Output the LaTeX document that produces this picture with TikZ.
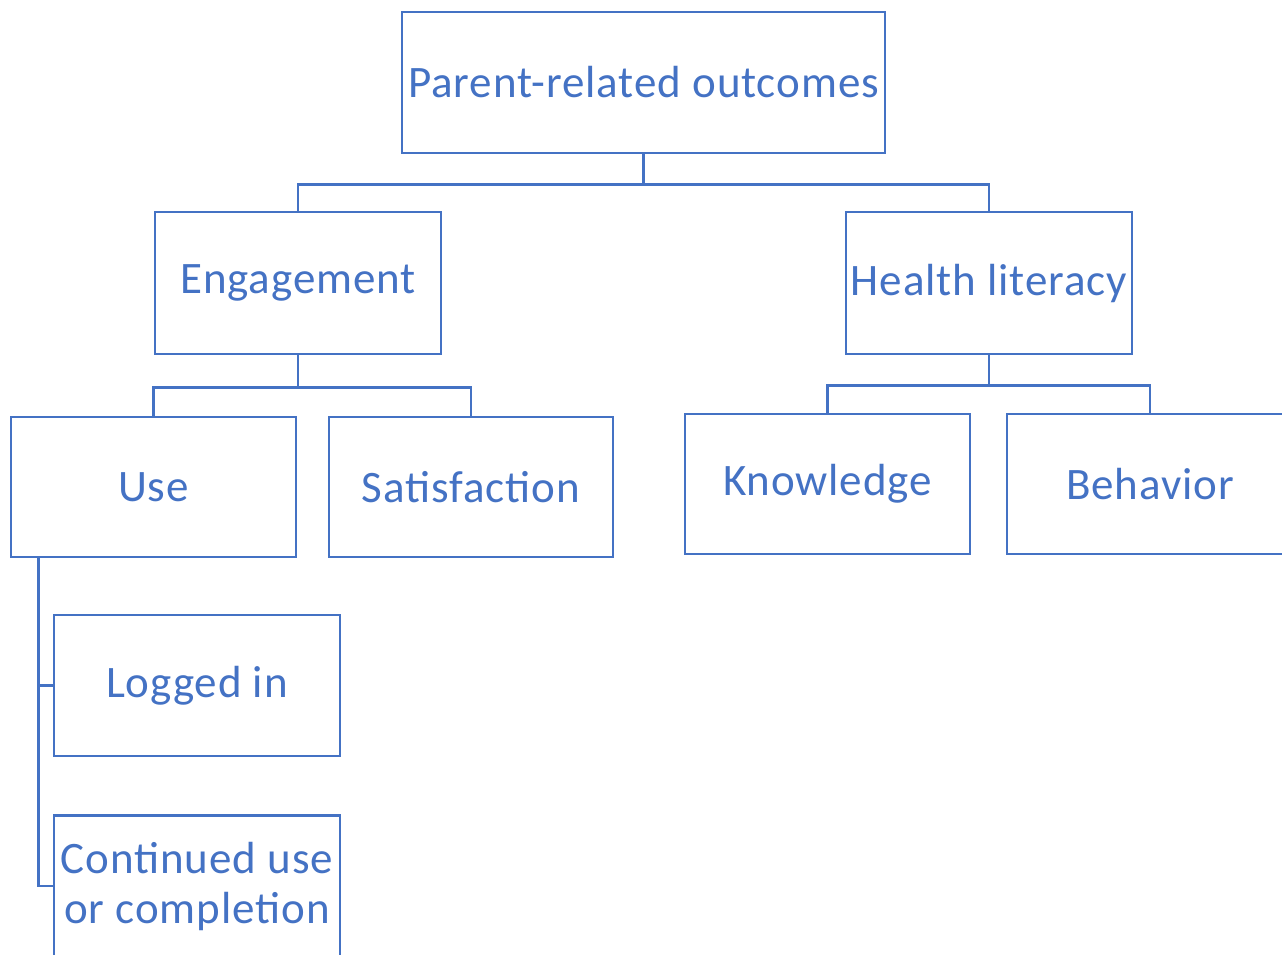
\documentclass[tikz,border=0pt]{standalone}
\usepackage{fontspec}
\setmainfont{Carlito}[LetterSpace=2]
\definecolor{boxblue}{HTML}{4472C4}
\begin{document}
\begin{tikzpicture}[x=1pt,y=-1pt,
  box/.style={draw=boxblue,line width=2.8pt,text=boxblue,inner sep=0pt,
    minimum width=#1,font=\fontsize{45}{50}\selectfont,align=center},
  box/.default=286,
  conn/.style={draw=boxblue,line width=2.8pt}]
\useasboundingbox (0,0) rectangle (1282,954);
\clip (0,0) rectangle (1282,954);
\fill[white] (0,0) rectangle (1282,954);
\node[box=483,minimum height=141] (top) at (643.5,82.5) {Parent-related outcomes};
\node[box,minimum height=142] (eng) at (298,283) {Engagement};
\node[box,minimum height=142] (hl) at (989,283) {Health literacy};
\node[box=285,minimum height=140] (use) at (153.5,487) {Use};
\node[box=284,minimum height=140] (sat) at (471,487) {Satisfaction};
\node[box=285,minimum height=140] (know) at (827.5,484) {Knowledge};
\node[box,minimum height=140] (beh) at (1150,484) {Behavior};
\node[box,minimum height=141] (log) at (197,685.5) {Logged in};
\node[box,minimum height=141] (cont) at (197,886) {Continued use\\or completion};
\draw[conn] (top.south) -- ++(0,30) coordinate (j1);
\draw[conn] (j1) -| (eng.north);
\draw[conn] (j1) -| (hl.north);
\draw[conn] (eng.south) -- ++(0,32) coordinate (j2);
\draw[conn] (j2) -| (use.north);
\draw[conn] (j2) -| (sat.north);
\draw[conn] (hl.south) -- ++(0,30) coordinate (j3);
\draw[conn] (j3) -| (know.north);
\draw[conn] (j3) -| (beh.north);
\coordinate (j4) at ([xshift=29]use.south west);
\draw[conn] (j4) |- (log.west);
\draw[conn] (j4) |- (cont.west);
\end{tikzpicture}
\end{document}
